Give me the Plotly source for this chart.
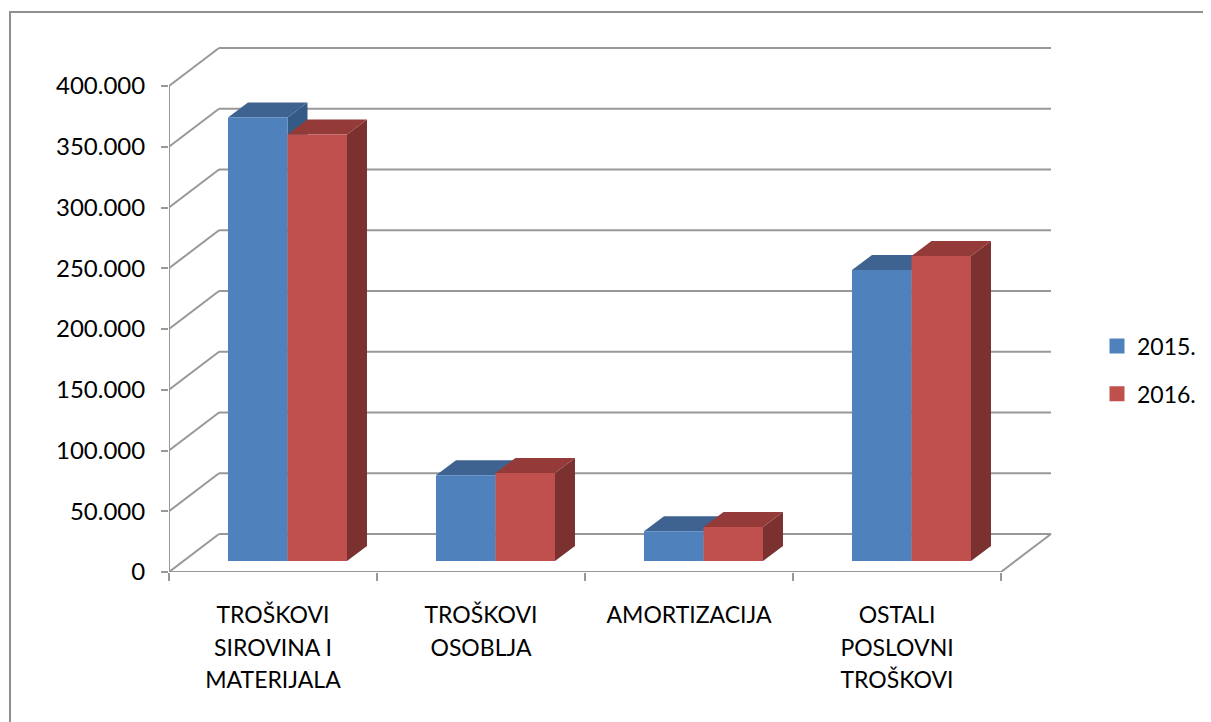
import plotly.graph_objects as go

categories = ["TROŠKOVI<br>SIROVINA I<br>MATERIJALA", "TROŠKOVI<br>OSOBLJA", "AMORTIZACIJA", "OSTALI<br>POSLOVNI<br>TROŠKOVI"]
series_names = ["2015.", "2016."]
values_2015 = [365000, 70500, 24500, 239500]
values_2016 = [351000, 72500, 28000, 251000]
y_ticks = [0, 50000, 100000, 150000, 200000, 250000, 300000, 350000, 400000]
y_labels = ["0", "50.000", "100.000", "150.000", "200.000", "250.000", "300.000", "350.000", "400.000"]

PAGE = 8  # the page's own margin around the figure
W, H = 1211 - PAGE, 722 - PAGE
L, R, T, B = 169 - PAGE, 0, 30 - PAGE, 150
PX_X = 208.0
PX_Y = (572 - 86) / 400000
def dx(px): return px / PX_X
def dy(px): return px / PX_Y

GRID = "#989898"
FONT = "Lato"
BLUE, BLUE_TOP, BLUE_SIDE = "#4F81BD", "#3E6390", "#345A86"
RED, RED_TOP, RED_SIDE = "#C0504D", "#943A38", "#7A3130"

BASE = dy(11)
OFF = dx(59)
BW = dx(59.5)
DX, DY = dx(20), dy(15)
WX, WY = dx(50), dy(38)

def line(x0, y0, x1, y1):
    return dict(type="line", xref="x", yref="y", x0=x0, y0=y0, x1=x1, y1=y1,
                layer="below", line=dict(color=GRID, width=2))

def poly(pts, color):
    p = "M" + " L".join(f"{a},{b}" for a, b in pts) + " Z"
    return dict(type="path", xref="x", yref="y", path=p, layer="below",
                fillcolor=color, line=dict(width=0))

shapes = []
# back wall grid and side wall diagonals
for v in y_ticks:
    shapes.append(line(0, v, WX, v + WY))
    shapes.append(line(WX, v + WY, 4 + WX, v + WY))
shapes.append(line(0, 0, 0, y_ticks[-1]))
shapes.append(line(0, 0, 4, 0))
shapes.append(line(4, 0, 4 + WX, WY))

# depth faces of the bars, behind the front faces
for k, (vals, top, side) in enumerate([(values_2015, BLUE_TOP, BLUE_SIDE), (values_2016, RED_TOP, RED_SIDE)]):
    for i, v in enumerate(vals):
        x0 = i + OFF + k * BW
        x1 = x0 + BW
        yt = v + BASE
        shapes.append(poly([(x1, BASE), (x1 + DX, BASE + DY), (x1 + DX, yt + DY), (x1, yt)], side))
        shapes.append(poly([(x0, yt), (x0 + DX, yt + DY), (x1 + DX, yt + DY), (x1, yt)], top))

# outer frame of the picture (page pixels)
px = lambda x: (x - PAGE - L) / (W - L - R)
py = lambda y: 1 - (y - PAGE - T) / (H - T - B)
shapes.append(dict(type="path", xref="paper", yref="paper", layer="below",
                   path=f"M{px(10)},{py(722)} L{px(10)},{py(12)} L{px(1211)},{py(12)}",
                   line=dict(color="#8f8f8f", width=2)))

fig = go.Figure()
for k, (name, vals, col) in enumerate(zip(series_names, [values_2015, values_2016], [BLUE, RED])):
    fig.add_bar(x=list(range(len(vals))), y=vals, base=BASE, width=BW, offset=OFF + k * BW,
                marker=dict(color=col, line=dict(width=0)), name=name, showlegend=False,
                hoverinfo="y")
    fig.add_bar(x=[None], y=[None], name=name, legendgroup=name,
                marker=dict(color=col, line=dict(color=col, width=3)))

fig.update_layout(
    width=W, height=H, margin=dict(l=L, r=R, t=T, b=B, pad=0),
    paper_bgcolor="white", plot_bgcolor="white", barmode="overlay",
    font=dict(family=FONT, color="black", size=23),
    shapes=shapes,
    legend=dict(x=px(1097), xanchor="left", y=py(370), yanchor="middle",
                tracegroupgap=15, font=dict(size=23), bgcolor="rgba(0,0,0,0)",
                borderwidth=0, itemclick=False, itemdoubleclick=False),
    xaxis=dict(range=[0, (W - L - R) / PX_X], showgrid=False, zeroline=False, showline=False,
               tickmode="array", tickvals=[i + 0.5 for i in range(len(categories))],
               ticktext=[f'<span style="font-size:23px">{c}</span>' for c in categories],
               ticks="", tickangle=0, tickfont=dict(size=25, family=FONT, color="black"),
               ticklabelstandoff=25,
               minor=dict(tickmode="array", tickvals=list(range(len(categories) + 1)),
                          ticks="outside", ticklen=8, tickwidth=2, tickcolor=GRID, showgrid=False)),
    yaxis=dict(range=[0, (H - T - B) / PX_Y], showgrid=False, zeroline=False, showline=False,
               tickmode="array", tickvals=y_ticks, ticktext=y_labels, ticks="outside",
               ticklen=7, tickwidth=2, tickcolor=GRID, ticklabelstandoff=11,
               tickfont=dict(size=24, family=FONT, color="black")),
)
fig.write_html("out.html", post_script="document.documentElement.style.overflow='hidden';")
